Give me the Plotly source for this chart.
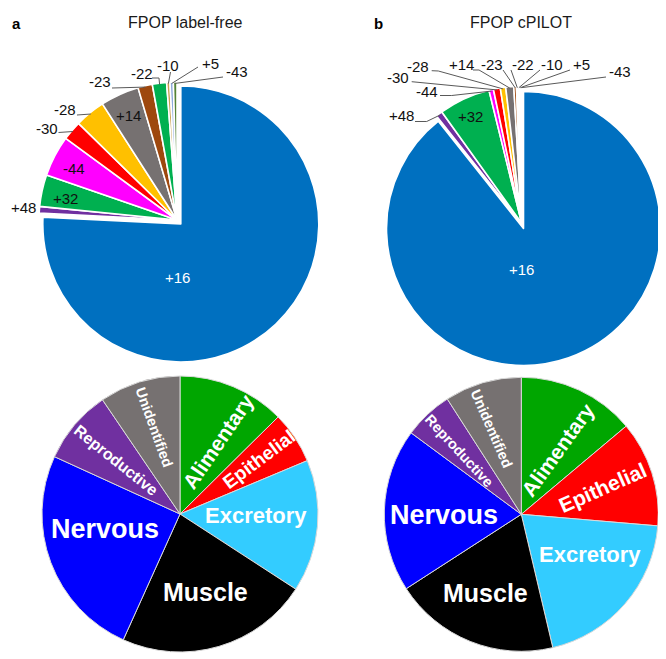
import math
import plotly.graph_objects as go

# the page body has an 8px margin, so the figure is drawn 8px in from the window edge
OFF = 8
W, H = 666 - OFF, 659 - OFF

# ---------------- data ----------------
ptm_labels = ["+16", "+48", "+32", "-44", "-30", "-28", "+14", "-23", "-22", "-10", "+5", "-43"]
labelfree_pct = [75.8, 0.78, 3.72, 4.78, 2.28, 3.56, 4.53, 1.69, 1.67, 0.39, 0.39, 0.42]
cpilot_pct = [89.3, 0.78, 6.06, 0.53, 0.81, 0.64, 0.94, 0.31, 0.19, 0.17, 0.17, 0.08]

tissue_labels = ["Alimentary", "Epithelial", "Excretory", "Muscle", "Nervous", "Reproductive", "Unidentified"]
labelfree_tissue = [12.6, 6.1, 15.5, 22.6, 25.1, 8.7, 9.5]
cpilot_tissue = [13.9, 12.5, 20.0, 19.6, 19.3, 5.8, 9.1]

panel_letters = ["a", "b"]
panel_titles = ["FPOP label-free", "FPOP cPILOT"]

# ---------------- style ----------------
FONT = "Liberation Sans, Arial, Helvetica, sans-serif"
ptm_colors = ["#0070C0", "#7030A0", "#00B050", "#FF00FF", "#FF0000", "#FFC000",
              "#767171", "#9E480E", "#00B050", "#C9A04F", "#8FAADC", "#548235"]
tissue_colors = ["#00A600", "#FF0000", "#33CCFF", "#000000", "#0000FF", "#7030A0", "#767171"]
ptm_pull = [0.04] + [0] * 11

# pie geometry in window pixels: centre x, centre y, radius, max pull
GEOM = {
    "a_top": (177.0, 220.0, 138.0, 0.04),
    "b_top": (521.7, 223.3, 137.0, 0.04),
    "a_bot": (180.0, 514.0, 138.0, 0.0),
    "b_bot": (521.3, 514.3, 137.0, 0.0),
}

# tissue label styling: (radius fraction, angle offset deg, font size, text angle)
TISSUE_STYLE = {
    "a_bot": [(0.593, 5.2, 21, -55.8), (0.693, -0.7, 19, -36.7), (0.551, -3.7, 22, 0),
              (0.596, -1.7, 25, 0), (0.557, 9.0, 27, 0), (0.603, 0.0, 16, 38.7),
              (0.656, 0.3, 14.5, 70.1)],
    "b_bot": [(0.545, 4.4, 21, -54.4), (0.627, -0.6, 21, -23.9), (0.580, -10.8, 22, 0),
              (0.628, 2.7, 25, 0), (0.562, -2.3, 27, 0), (0.647, -1.0, 14.5, 47.2),
              (0.661, -2.5, 14.5, 66.5)],
}

# top-pie label placement (window-pixel label centre, leader-line points before the slice edge)
PTM_LABELS = {
    "a_top": {
        "+16": dict(pos=(177.8, 277.5), color="white"),
        "+48": dict(pos=(23.3, 207.3)),
        "+32": dict(pos=(65.0, 198.3)),
        "-44": dict(pos=(74.0, 168.3)),
        "-30": dict(pos=(46.7, 128.3), line=[(58.5, 132.5)]),
        "-28": dict(pos=(65.0, 110.0), line=[(77.0, 115.0)]),
        "+14": dict(pos=(128.3, 115.0)),
        "-23": dict(pos=(100.0, 81.7), line=[(112.0, 88.0)]),
        "-22": dict(pos=(141.7, 73.3), line=[(152.0, 78.0), (159.0, 78.0)]),
        "-10": dict(pos=(168.3, 65.7), line=[(170.5, 72.0)]),
        "+5": dict(pos=(210.0, 63.3), line=[(198.0, 67.0)]),
        "-43": dict(pos=(236.7, 71.7), line=[(223.0, 77.0)]),
    },
    "b_top": {
        "+16": dict(pos=(521.3, 269.2), color="white"),
        "+48": dict(pos=(401.7, 115.0), line=[(415.0, 121.5), (426.7, 121.5)]),
        "+32": dict(pos=(470.0, 116.7)),
        "-44": dict(pos=(426.7, 91.7), line=[(440.0, 95.5), (451.7, 95.5)]),
        "-30": dict(pos=(398.3, 77.7), line=[(411.7, 81.7)]),
        "-28": dict(pos=(418.3, 66.7), line=[(431.7, 70.7), (438.3, 71.0)]),
        "+14": dict(pos=(461.7, 65.0), line=[(473.0, 70.0), (479.0, 70.0)]),
        "-23": dict(pos=(492.0, 65.0), line=[(503.0, 70.0)]),
        "-22": dict(pos=(523.0, 65.0), line=[(511.0, 70.0)]),
        "-10": dict(pos=(551.7, 65.0), line=[(540.0, 70.0)]),
        "+5": dict(pos=(581.7, 65.0), line=[(570.0, 70.0)]),
        "-43": dict(pos=(619.7, 71.7), line=[(606.0, 77.0)]),
    },
}


def px(x):
    return (x - OFF) / W


def py(y):
    return 1 - (y - OFF) / H


def domain(key):
    cx, cy, r, pull = GEOM[key]
    half = r * (1 + pull)
    return dict(x=[px(cx - half), px(cx + half)], y=[py(cy + half), py(cy - half)])


def mid_angles(vals):
    tot = float(sum(vals))
    acc, out = 0.0, []
    for v in vals:
        out.append((acc + v / 2) / tot * 360.0)
        acc += v
    return out


def polar(cx, cy, r, ang):
    a = math.radians(ang)
    return cx + r * math.sin(a), cy - r * math.cos(a)


fig = go.Figure()

for key, vals in (("a_top", labelfree_pct), ("b_top", cpilot_pct)):
    fig.add_trace(go.Pie(
        labels=ptm_labels, values=vals, sort=False, direction="clockwise", rotation=0,
        marker=dict(colors=ptm_colors, line=dict(color="white", width=1.6)),
        pull=ptm_pull, textinfo="none", hoverinfo="label+percent",
        domain=domain(key), showlegend=False))

for key, vals in (("a_bot", labelfree_tissue), ("b_bot", cpilot_tissue)):
    fig.add_trace(go.Pie(
        labels=tissue_labels, values=vals, sort=False, direction="clockwise", rotation=0,
        marker=dict(colors=tissue_colors, line=dict(color="#d9d9d9", width=1)),
        textinfo="none", hoverinfo="label+percent",
        domain=domain(key), showlegend=False))

annotations = []
shapes = []

# panel letters and titles
for letter, title, lx, tx in zip(panel_letters, panel_titles, (16.7, 378.0), (185.0, 521.3)):
    annotations.append(dict(x=px(lx), y=py(23.3), xref="paper", yref="paper", text="<b>%s</b>" % letter,
                            showarrow=False, xanchor="center", yanchor="middle",
                            font=dict(family=FONT, size=15, color="black")))
    annotations.append(dict(x=px(tx), y=py(22.7), xref="paper", yref="paper",
                            text=title, showarrow=False, xanchor="center", yanchor="middle",
                            font=dict(family=FONT, size=16, color="#1a1a1a")))

# top pie labels + leader lines
for key, vals in (("a_top", labelfree_pct), ("b_top", cpilot_pct)):
    cx, cy, r, _ = GEOM[key]
    mids = mid_angles(vals)
    for lab, mid in zip(ptm_labels, mids):
        spec = PTM_LABELS[key][lab]
        x, y = spec["pos"]
        annotations.append(dict(x=px(x), y=py(y), xref="paper", yref="paper", text=lab,
                                showarrow=False, xanchor="center", yanchor="middle",
                                font=dict(family=FONT, size=15, color=spec.get("color", "#111111"))))
        if "line" in spec:
            pts = list(spec["line"]) + [polar(cx, cy, r * 0.99, mid)]
            path = "M " + " L ".join("%f %f" % (px(a), py(b)) for a, b in pts)
            shapes.append(dict(type="path", path=path, xref="paper", yref="paper",
                               line=dict(color="#595959", width=1)))

# bottom pie labels
for key, vals in (("a_bot", labelfree_tissue), ("b_bot", cpilot_tissue)):
    cx, cy, r, _ = GEOM[key]
    mids = mid_angles(vals)
    for lab, mid, st in zip(tissue_labels, mids, TISSUE_STYLE[key]):
        frac, doff, size, tang = st
        x, y = polar(cx, cy, r * frac, mid + doff)
        annotations.append(dict(x=px(x), y=py(y), xref="paper", yref="paper",
                                text="<b>%s</b>" % lab, showarrow=False, textangle=tang,
                                xanchor="center", yanchor="middle",
                                font=dict(family=FONT, size=size, color="white")))

fig.update_layout(
    width=W, height=H, margin=dict(l=0, r=0, t=0, b=0),
    paper_bgcolor="white", plot_bgcolor="white",
    annotations=annotations, shapes=shapes, showlegend=False,
)

fig.write_html("out.html")
